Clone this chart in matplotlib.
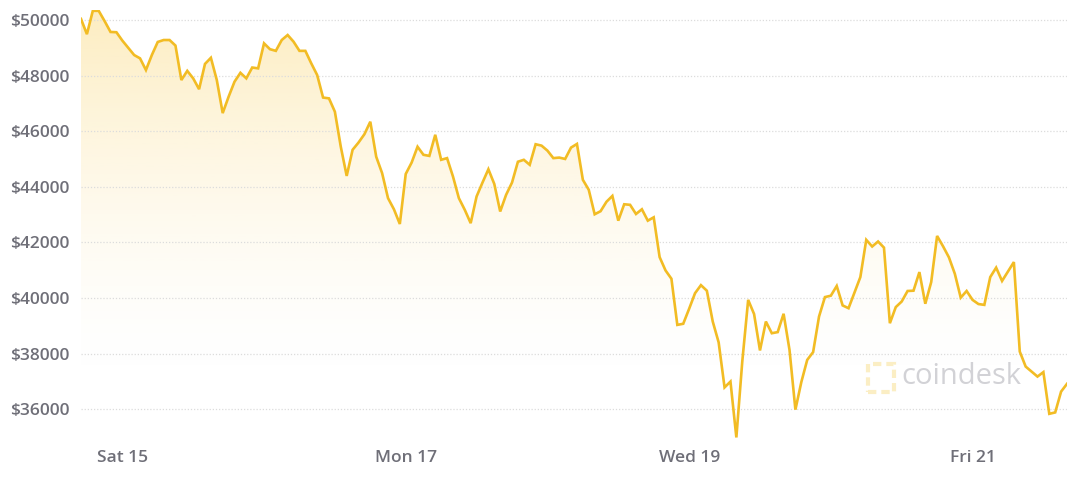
import matplotlib
matplotlib.use("Agg")
import matplotlib.pyplot as plt
import matplotlib.dates as mdates
from matplotlib.patches import Rectangle
import numpy as np
import pandas as pd

# BTC hourly price, 14 May 2021 17:00 -> 21 May 2021 16:00
precios = [
    50040, 49490, 50330, 50330, 49960, 49570, 49560, 49260, 49000, 48740,
    48620, 48200, 48740, 49210, 49280, 49280, 49080, 47840, 48170, 47900,
    47510, 48420, 48640, 47840, 46650, 47240, 47780, 48100, 47900, 48290,
    48260, 49160, 48950, 48890, 49280, 49460, 49220, 48890, 48890, 48440,
    48020, 47210, 47180, 46700, 45440, 44390, 45330, 45590, 45890, 46340,
    45080, 44490, 43590, 43190, 42660, 44460, 44870, 45440, 45150, 45110,
    45870, 44970, 45030, 44370, 43590, 43170, 42690, 43650, 44150, 44630,
    44100, 43110, 43710, 44150, 44900, 44970, 44790, 45530, 45480, 45300,
    45030, 45050, 45000, 45410, 45540, 44250, 43890, 43010, 43120, 43460,
    43670, 42780, 43370, 43350, 43020, 43190, 42780, 42900, 41470, 40990,
    40690, 39030, 39070, 39610, 40170, 40460, 40260, 39150, 38400, 36780,
    36990, 34980, 37710, 39930, 39420, 38110, 39150, 38730, 38770, 39430,
    38130, 35980, 36970, 37770, 38050, 39330, 40030, 40080, 40430, 39730,
    39630, 40190, 40750, 42090, 41850, 42030, 41810, 39090, 39670, 39870,
    40250, 40260, 40930, 39790, 40570, 42230, 41860, 41460, 40870, 40010,
    40250, 39930, 39780, 39750, 40750, 41090, 40610, 40950, 41290, 38070,
    37530, 37350, 37170, 37330, 35830, 35880, 36630, 36910,
]
fechas = pd.date_range("2021-05-14 17:00", periods=len(precios), freq="h")

dias_ticks = pd.to_datetime(["2021-05-15", "2021-05-17", "2021-05-19", "2021-05-21"])
precios_ticks = list(range(36000, 50001, 2000))

color_linea = "#f2bc24"
color_texto = "#6f6f78"

fig = plt.figure(figsize=(10.8, 4.84), dpi=100)
fig.patch.set_facecolor("white")
ax = fig.add_axes([81 / 1080, 1 - 438 / 484, 986 / 1080, 428 / 484])

x = mdates.date2num(fechas)
y_min, y_max = 34960, 50360

# relleno con degradado (amarillo arriba, blanco abajo)
niveles = np.linspace(y_max, y_min, 300)
t = np.clip((niveles - 37000) / (y_max - 37000), 0, 1)
rgba = np.zeros((300, 1, 4))
rgba[..., 0] = 252 / 255
rgba[..., 1] = 226 / 255
rgba[..., 2] = 155 / 255
rgba[..., 3] = (0.62 * t ** 1.6).reshape(-1, 1)
img = ax.imshow(rgba, aspect="auto", extent=[x[0], x[-1], y_min, y_max],
                origin="upper", zorder=1)
poly = ax.fill_between(x, precios, y_min, color="none", lw=0)
clip = poly.get_paths()[0]
img.set_clip_path(clip, ax.transData)

ax.plot(x, precios, color=color_linea, lw=1.9, zorder=3, solid_joinstyle="miter")

ax.set_xlim(x[0], x[-1])
ax.set_ylim(y_min, y_max)

ax.set_yticks(precios_ticks)
ax.set_yticklabels(["$%d" % p for p in precios_ticks])
ax.set_xticks(mdates.date2num(dias_ticks))
ax.set_xticklabels([d.strftime("%a %-d") for d in dias_ticks])

for lab in ax.get_yticklabels() + ax.get_xticklabels():
    lab.set_fontfamily(["Open Sans", "DejaVu Sans"])
    lab.set_fontweight("semibold")
    lab.set_fontsize(12.5)
    lab.set_color(color_texto)

ax.tick_params(axis="y", length=0, pad=8)
ax.tick_params(axis="x", length=0, pad=9)
ax.grid(axis="y", color="#dcdcdc", linestyle=(0, (1, 1.5)), lw=0.9, zorder=2)
ax.set_axisbelow(False)
for s in ax.spines.values():
    s.set_visible(False)

# marca de agua
fig.text(901 / 1080, 1 - 376 / 484, "coindesk", fontsize=21,
         family=["Open Sans", "DejaVu Sans"], color="#d2d2d6", va="center", ha="left")
fig.patches.append(Rectangle((868 / 1080, 1 - 392 / 484), 26 / 1080, 28 / 484,
                             transform=fig.transFigure, fill=False,
                             edgecolor="#fbeec4", lw=3, linestyle=(0, (2, 1.2))))

fig.savefig("out.png", dpi=100)
